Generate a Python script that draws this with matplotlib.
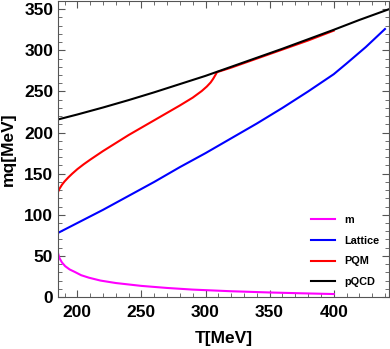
import numpy as np
import matplotlib
matplotlib.use("Agg")
import matplotlib.pyplot as plt
from matplotlib.ticker import MultipleLocator

plt.rcParams['font.family'] = ['Liberation Sans', 'DejaVu Sans']
plt.rcParams['font.weight'] = 'bold'

# m (magenta)
T_m = [185, 186, 188, 190.5, 194, 198, 203, 209, 218, 230, 250, 270, 290, 320, 350, 375, 400]
m_vals = [53, 47.5, 42, 37.5, 33.5, 30.5, 26.5, 23.5, 20, 17, 13.5, 11, 9, 7, 5.5, 4.5, 3.6]

# Lattice (blue)
T_lat = [185, 200, 220, 240, 260, 280, 300, 320, 340, 360, 380, 400, 410, 425, 440]
lat_vals = [78, 90, 106, 123, 140, 158, 175, 193, 211, 230, 250, 271, 284, 304, 326]

# PQM (red)
T_pqm = [185, 186, 188, 190, 193, 196, 200, 205, 210, 220, 240, 260, 280, 290, 297, 301, 304,
         306, 307.5, 309, 320, 340, 360, 380, 400]
pqm_vals = [128, 131.5, 136.5, 140.5, 145.5, 150, 155.5, 161.5, 167, 177.5, 197, 215, 233,
            242.5, 250.5, 256, 261, 265.5, 269.5, 273.5, 279, 290, 301, 312, 324]

# pQCD (black)
T_qcd = [185, 200, 220, 240, 260, 280, 300, 320, 340, 360, 380, 400, 420, 443]
qcd_vals = [216, 222, 230.5, 239.5, 249, 259, 269, 280, 291, 302, 313.5, 325, 337, 350]

fig = plt.figure(figsize=(3.9, 3.49), dpi=100)
ax = fig.add_axes([0.149, 0.149, 0.848, 0.848])

ax.plot(T_m, m_vals, color='#ff00ff', lw=1.5, label='m')
ax.plot(T_lat, lat_vals, color='#0000ff', lw=1.5, label='Lattice')
ax.plot(T_pqm, pqm_vals, color='#ff0000', lw=1.5, label='PQM')
ax.plot(T_qcd, qcd_vals, color='black', lw=1.5, label='pQCD')

ax.set_xlim(185, 443)
ax.set_ylim(0, 360)
ax.xaxis.set_major_locator(MultipleLocator(50))
ax.xaxis.set_minor_locator(MultipleLocator(10))
ax.yaxis.set_major_locator(MultipleLocator(50))
ax.yaxis.set_minor_locator(MultipleLocator(10))
ax.tick_params(which='both', direction='in', top=True, right=True,
               labeltop=False, labelright=False, color='#555555')
ax.tick_params(which='major', length=5, labelsize=12.5)
ax.tick_params(axis='x', which='major', pad=6)
ax.tick_params(which='minor', length=3)
for s in ax.spines.values():
    s.set_color('#555555')

ax.set_xlabel('T[MeV]', fontsize=12.5, fontweight='bold', labelpad=8)
ax.set_ylabel('mq[MeV]', fontsize=12.5, fontweight='bold', labelpad=6)

ax.legend(loc='lower right', frameon=False, handlelength=2.2,
          labelspacing=1.0, bbox_to_anchor=(1.0, 0.0),
          prop={'weight': 'bold', 'size': 7.8})

fig.savefig('out.png', dpi=100)
